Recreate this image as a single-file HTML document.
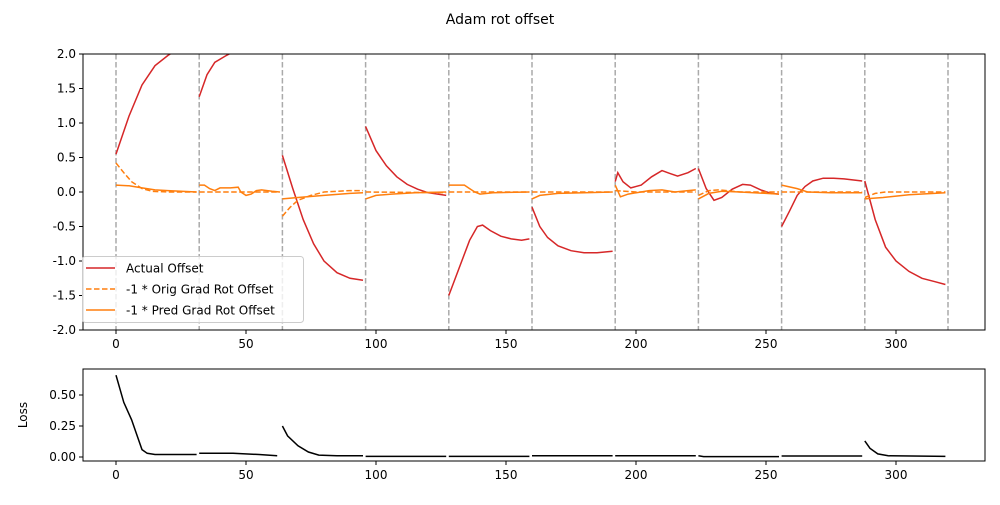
<!DOCTYPE html>
<html><head><meta charset="utf-8"><style>
body{margin:0;background:#fff;font-family:"Liberation Sans","DejaVu Sans",sans-serif}
svg text{font-family:"DejaVu Sans","Liberation Sans",sans-serif;font-size:12px;fill:#000}
</style></head><body>
<svg id="c" width="1000" height="500" xmlns="http://www.w3.org/2000/svg">
<text x="500" y="24" text-anchor="middle" style="font-size:14px">Adam rot offset</text>
<defs><clipPath id="cp"><rect x="83" y="54" width="902" height="276"/></clipPath></defs>
<g id="topg" clip-path="url(#cp)"></g>
<g id="bot"></g>
<g id="axes"></g>
</svg>
<script>
const actualX=[0,5,10,15,20,25,31,null,32,35,38,42,46,50,null,64,68,72,76,80,85,90,95,null,96,100,104,108,112,116,120,127,null,128,132,136,139,141,144,148,152,156,159,null,160,163,166,170,175,180,185,191,null,192,193,195,198,202,206,210,213,216,220,223,null,224,227,230,233,237,241,244,248,252,255,null,256,259,262,265,268,272,276,280,287,null,288,292,296,300,305,310,315,319];
const actualY=[0.55,1.1,1.55,1.83,1.98,2.1,2.2,null,1.38,1.7,1.88,1.97,2.05,2.12,null,0.53,0.05,-0.4,-0.75,-1.0,-1.17,-1.25,-1.28,null,0.95,0.6,0.38,0.22,0.11,0.04,-0.01,-0.05,null,-1.5,-1.1,-0.7,-0.5,-0.48,-0.56,-0.64,-0.68,-0.7,-0.68,null,-0.22,-0.5,-0.66,-0.78,-0.85,-0.88,-0.88,-0.86,null,0.15,0.28,0.15,0.06,0.1,0.22,0.31,0.27,0.23,0.28,0.34,null,0.34,0.05,-0.12,-0.08,0.04,0.11,0.1,0.03,-0.02,-0.03,null,-0.5,-0.28,-0.05,0.08,0.16,0.2,0.2,0.19,0.16,null,0.16,-0.4,-0.8,-1.0,-1.15,-1.25,-1.3,-1.34];
const origX=[0,3,6,10,14,20,31,null,32,63,null,64,67,70,75,80,90,95,null,96,127,null,128,159,null,160,191,null,192,200,223,null,224,228,232,240,255,null,256,287,null,288,292,296,319];
const origY=[0.42,0.28,0.15,0.05,0.01,0,0,null,0,0,null,-0.35,-0.22,-0.12,-0.05,0,0.02,0.02,null,0,-0.01,null,0,0,null,0,0,null,0.02,0,0,null,-0.05,0.02,0.03,0,0,null,0,0,null,-0.08,-0.02,0,0];
const predX=[0,5,10,15,20,31,null,32,34,36,38,40,44,47,48,50,52,54,56,60,63,null,64,70,80,90,95,null,96,100,106,115,127,null,128,134,136,138,140,145,159,null,160,163,170,180,191,null,192,194,197,205,210,215,220,223,null,224,228,233,240,255,null,256,262,266,275,287,null,288,295,305,319];
const predY=[0.1,0.09,0.06,0.03,0.02,0,null,0.1,0.1,0.05,0.02,0.06,0.06,0.07,0,-0.05,-0.03,0.02,0.03,0.01,0,null,-0.1,-0.08,-0.05,-0.02,-0.01,null,-0.1,-0.05,-0.03,-0.01,0,null,0.1,0.1,0.05,0,-0.03,-0.01,0,null,-0.1,-0.05,-0.02,-0.01,0,null,0.1,-0.07,-0.03,0.02,0.03,0,0.02,0.03,null,-0.1,-0.02,0.01,0,-0.03,null,0.1,0.05,0,-0.01,-0.01,null,-0.1,-0.08,-0.04,-0.01];
const lossX=[0,3,6,8,10,12,15,31,null,32,45,55,62,null,64,66,70,74,78,85,95,null,96,127,null,128,159,null,160,191,null,192,223,null,224,226,255,null,256,287,null,288,290,293,297,319];
const lossY=[0.66,0.44,0.3,0.18,0.06,0.03,0.02,0.02,null,0.03,0.03,0.02,0.01,null,0.25,0.17,0.09,0.04,0.015,0.01,0.01,null,0.005,0.005,null,0.005,0.005,null,0.01,0.01,null,0.01,0.01,null,0.01,0.003,0.003,null,0.008,0.008,null,0.13,0.07,0.025,0.01,0.005];
const episodeStarts=[0,32,64,96,128,160,192,224,256,288,320];
const xTicks=[0,50,100,150,200,250,300];
const topYTicks=[2.0,1.5,1.0,0.5,0.0,-0.5,-1.0,-1.5,-2.0];
const botYTicks=[0.5,0.25,0.0];

const NS="http://www.w3.org/2000/svg";
const sx=v=>116+v*2.6;
const sy=v=>192-v*69;
const sy2=v=>457-v*124;
function mk(tag,attrs,parent){const e=document.createElementNS(NS,tag);for(const k in attrs)e.setAttribute(k,attrs[k]);parent.appendChild(e);return e;}
function pathD(xs,ys,fy){let d="",pen=false;for(let i=0;i<xs.length;i++){if(xs[i]===null){pen=false;continue;}d+=(pen?"L":"M")+sx(xs[i]).toFixed(1)+","+fy(ys[i]).toFixed(1);pen=true;}return d;}
const topG=document.getElementById('topg'),botG=document.getElementById('bot'),axG=document.getElementById('axes');
episodeStarts.forEach(v=>{const l=mk('line',{x1:sx(v),x2:sx(v),y1:54,y2:330,stroke:'#aaa','stroke-width':1.5,'stroke-dasharray':'5.5,2.5'},topG);

});
let p=mk('path',{d:pathD(actualX,actualY,sy),fill:'none',stroke:'#d62728','stroke-width':1.5},topG);


p=mk('path',{d:pathD(origX,origY,sy),fill:'none',stroke:'#ff7f0e','stroke-width':1.5,'stroke-dasharray':'5.5,2.5'},topG);


p=mk('path',{d:pathD(predX,predY,sy),fill:'none',stroke:'#ff7f0e','stroke-width':1.5},topG);


p=mk('path',{d:pathD(lossX,lossY,sy2),fill:'none',stroke:'#000','stroke-width':1.5},botG);


let f=mk('rect',{x:83,y:54,width:902,height:276,fill:'none',stroke:'#000','stroke-width':1},axG);


f=mk('rect',{x:83,y:369,width:902,height:92,fill:'none',stroke:'#000','stroke-width':1},axG);


[[330,'top'],[461,'bottom']].forEach(([yb,nm])=>{xTicks.forEach(v=>{mk('line',{x1:sx(v),x2:sx(v),y1:yb,y2:yb+4,stroke:'#000'},axG);
const t=mk('text',{x:sx(v),y:yb+18,'text-anchor':'middle'},axG);t.textContent=v;

});});
topYTicks.forEach(v=>{mk('line',{x1:79,x2:83,y1:sy(v),y2:sy(v),stroke:'#000'},axG);
const t=mk('text',{x:76,y:sy(v)+4,'text-anchor':'end'},axG);t.textContent=v.toFixed(1);

});
botYTicks.forEach(v=>{mk('line',{x1:79,x2:83,y1:sy2(v),y2:sy2(v),stroke:'#000'},axG);
const t=mk('text',{x:76,y:sy2(v)+4,'text-anchor':'end'},axG);t.textContent=v.toFixed(2);

});
let yl=mk('text',{x:27,y:415,'text-anchor':'middle',transform:'rotate(-90 27 415)'},axG);yl.textContent='Loss';


const lg=mk('g',{},axG);


mk('rect',{x:82.5,y:256.5,width:221,height:66,rx:3,fill:'#fff','fill-opacity':0.8,stroke:'#ccc'},lg);
const items=[['Actual Offset','#d62728',null],['-1 * Orig Grad Rot Offset','#ff7f0e','5.5,2.5'],['-1 * Pred Grad Rot Offset','#ff7f0e',null]];
items.forEach((it,i)=>{const y=268+i*21;const a={x1:86,x2:115,y1:y,y2:y,stroke:it[1],'stroke-width':1.5};if(it[2])a['stroke-dasharray']=it[2];mk('line',a,lg);
const t=mk('text',{x:126,y:y+4.5},lg);t.textContent=it[0];

});
</script>
</body></html>
